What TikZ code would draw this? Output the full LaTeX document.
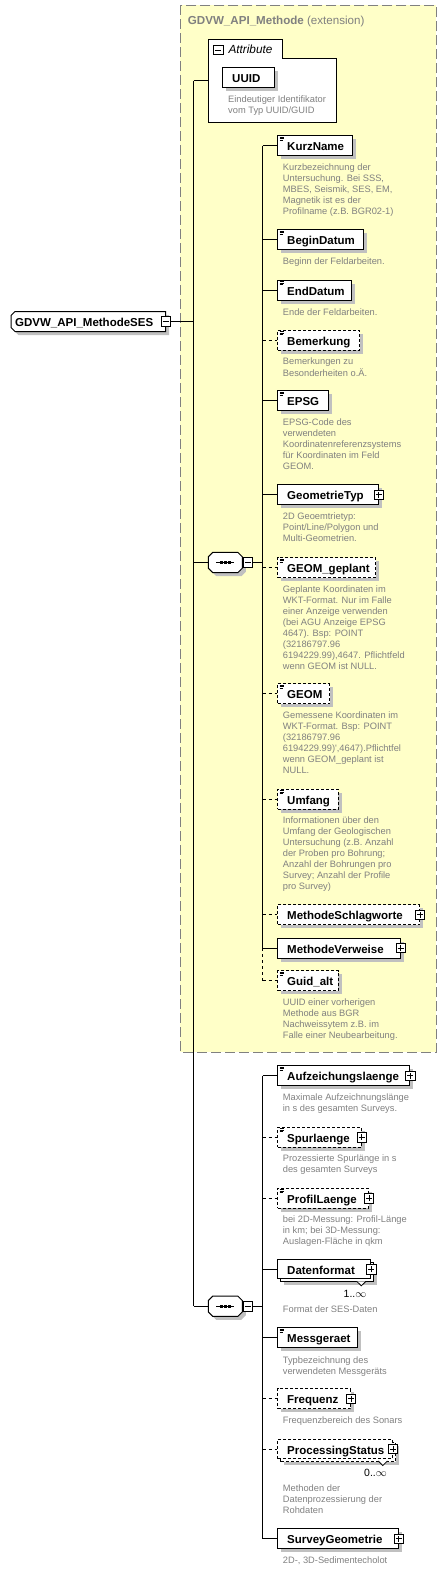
\documentclass[tikz,border=0pt]{standalone}
\usepackage{fontspec}
\setmainfont{Liberation Sans}
\usetikzlibrary{calc}
\definecolor{extfill}{RGB}{255,255,200}
\definecolor{extborder}{RGB}{128,128,128}
\definecolor{descgray}{RGB}{128,128,128}
\definecolor{shadowgray}{RGB}{192,192,192}
\newcommand{\ElemBox}[6]{%
  \pgfmathsetmacro{\ElemW}{#4-#2}%
  \pgfmathsetmacro{\ElemTW}{#4-#2-18.8}%
  \node[#5,minimum width=\ElemW pt] (#1) at (#2,#3) {\makebox[\ElemTW pt][l]{#6}};}
\newcommand{\DocIcon}[1]{%
  \draw[line width=0.6pt] ($(#1.north west)+(2.3pt,-1.8pt)$) -- ++(4.6pt,0pt)
    ($(#1.north west)+(2.3pt,-3.4pt)$) -- ++(4.6pt,0pt)
    ($(#1.north west)+(2.3pt,-5pt)$) -- ++(3.6pt,0pt);}
\newcommand{\Octa}[5]{\path[#5] ({#1+4.5},#2) -- ({#3-4.5},#2) -- (#3,{#2+4.5}) -- (#3,{#4-4.5}) -- ({#3-4.5},#4) -- ({#1+4.5},#4) -- (#1,{#4-4.5}) -- (#1,{#2+4.5}) -- cycle;}
\newcommand{\SeqDots}[1]{%
  \draw[line width=1pt] ($(#1.center)+(-9pt,0pt)$) -- ($(#1.center)+(9pt,0pt)$);
  \fill ($(#1.center)+(-5.3pt,-1.3pt)$) rectangle ++(2.6pt,2.6pt);
  \fill ($(#1.center)+(-1.3pt,-1.3pt)$) rectangle ++(2.6pt,2.6pt);
  \fill ($(#1.center)+(2.7pt,-1.3pt)$) rectangle ++(2.6pt,2.6pt);}
\begin{document}
\begin{tikzpicture}[x=1pt,y=-1pt,
  shadowed/.style={preaction={draw=none,fill=shadowgray,transform canvas={xshift=3.5pt,yshift=-3.5pt}}},
  elembase/.style={draw=black,line width=1pt,fill=white,minimum height=20pt,inner xsep=9.4pt,inner ysep=0pt,anchor=north west,text height=10pt,text depth=0pt,font=\fontsize{11.5}{13}\selectfont\bfseries},
  elem/.style={elembase,shadowed},
  optelem/.style={elembase,shadowed,dash pattern=on 3pt off 2pt},
  optfront/.style={elembase,dash pattern=on 3pt off 2pt},
  desc/.style={anchor=north west,inner sep=0pt,align=left,text=descgray,font=\fontsize{9.3}{11}\selectfont},
  conn/.style={line width=1pt},
  optconn/.style={line width=1pt,dash pattern=on 3pt off 3pt},
  pm/.style={draw=black,fill=white,line width=0.8pt,minimum size=9.5pt,inner sep=0pt,shape=rectangle},
  plusbox/.style={pm,path picture={\draw[line width=0.8pt] ($(path picture bounding box.center)+(-3pt,0pt)$) -- ++(6pt,0pt) ($(path picture bounding box.center)+(0pt,-3pt)$) -- ++(0pt,6pt);}},
  minusbox/.style={pm,path picture={\draw[line width=0.8pt] ($(path picture bounding box.center)+(-3pt,0pt)$) -- ++(6pt,0pt);}},
  mult/.style={inner sep=0pt,font=\fontsize{10.5}{12}\selectfont}
]
\useasboundingbox (0,0) rectangle (447,1573);
% extension container
\draw[extborder,fill=extfill,line width=1pt,dash pattern=on 10pt off 4pt] (180.3,5.3) rectangle (436.3,1052.3);
\node[anchor=base west,inner sep=0pt,text=extborder,font=\fontsize{11.6}{13}\selectfont] (exttitle) at (187.7,24.2) {\textbf{GDVW\_API\_Methode} (extension)};
% attribute group
\draw[line width=1pt,fill=white] (208.3,122.3) -- (208.3,39.3) -- (282.3,39.3) -- (282.3,58.3) -- (336.3,58.3) -- (336.3,122.3) -- cycle;
\node[minusbox] (attrm) at (218.3,50) {};
\node[anchor=base west,inner sep=0pt,font=\fontsize{11.8}{13}\selectfont\itshape] (attrlabel) at (228.3,54) {Attribute};
\ElemBox{uuid}{222.3}{67.3}{273.7}{elem}{UUID}
\node[desc] (duuid) at (228,95) {\strut Eindeutiger Identifikator\\vom Typ UUID/GUID};
% root
\fill[shadowgray] (18.5,315) -- (169.2,315) -- (169.2,335) -- (18.5,335) -- (14.5,331) -- (14.5,319) -- cycle;
\draw[line width=1pt,fill=white] (15,311.5) -- (165.7,311.5) -- (165.7,331.5) -- (15,331.5) -- (11,327.5) -- (11,315.5) -- cycle;
\node[anchor=west,inner sep=0pt,text height=10pt,text depth=0pt,font=\fontsize{11.5}{13}\selectfont\bfseries] (root) at (15,321.5) {GDVW\_API\_MethodeSES};
\node[minusbox] (rootm) at (165.7,321.5) {};
% compositors
\Octa{211.8}{555.8}{245.8}{576.2}{fill=shadowgray}
\Octa{208.3}{552.3}{242.3}{572.7}{draw=black,fill=white,line width=1pt}
\node[inner sep=0pt,minimum width=34pt,minimum height=20.4pt] (seq1) at (225.3,562.5) {};
\SeqDots{seq1}
\node[minusbox] (seq1m) at (247.8,562.5) {};
\Octa{211.8}{1299.5}{245.8}{1319.9}{fill=shadowgray}
\Octa{208.3}{1296}{242.3}{1316.4}{draw=black,fill=white,line width=1pt}
\node[inner sep=0pt,minimum width=34pt,minimum height=20.4pt] (seq2) at (225.3,1306.2) {};
\SeqDots{seq2}
\node[minusbox] (seq2m) at (247.8,1306.2) {};
% group 1 elements
\ElemBox{kurzname}{277.3}{135.3}{351.7}{elem}{KurzName}\DocIcon{kurzname}
\node[desc] (dkurz) at (282.7,163.0) {\strut Kurzbezeichnung der\\Untersuchung. Bei SSS,\\MBES, Seismik, SES, EM,\\Magnetik ist es der\\Profilname (z.B. BGR02-1)};
\ElemBox{begin}{277.3}{229.0}{362.7}{elem}{BeginDatum}\DocIcon{begin}
\node[desc] (dbegin) at (282.7,257.0) {\strut Beginn der Feldarbeiten.};
\ElemBox{end}{277.3}{279.5}{351.0}{elem}{EndDatum}\DocIcon{end}
\node[desc] (dend) at (282.7,307.3) {\strut Ende der Feldarbeiten.};
\ElemBox{bemerkung}{277.3}{329.7}{359.0}{optelem}{Bemerkung}\DocIcon{bemerkung}
\node[desc] (dbem) at (282.7,356.6) {\strut Bemerkungen zu\\Besonderheiten o.Ä.};
\ElemBox{epsg}{277.3}{390.0}{328.3}{elem}{EPSG}\DocIcon{epsg}
\node[desc] (depsg) at (282.7,418.0) {\strut EPSG-Code des\\verwendeten\\Koordinatenreferenzsystems\\für Koordinaten im Feld\\GEOM.};
\ElemBox{geotyp}{277.3}{484.3}{377.7}{elem}{GeometrieTyp}
\node[plusbox] (geotypp) at (geotyp.east) {};
\node[desc] (dgeotyp) at (282.7,512.0) {\strut 2D Geoemtrietyp:\\Point/Line/Polygon und\\Multi-Geometrien.};
\ElemBox{geomgeplant}{277.3}{557.0}{375.0}{optelem}{GEOM\_geplant}\DocIcon{geomgeplant}
\node[desc] (dgeomgeplant) at (282.7,584.3) {\strut Geplante Koordinaten im\\WKT-Format. Nur im Falle\\einer Anzeige verwenden\\(bei AGU Anzeige EPSG\\4647). Bsp: POINT\\(32186797.96\\6194229.99),4647. Pflichtfeld\\wenn GEOM ist NULL.};
\ElemBox{geom}{277.3}{683.3}{329.0}{optelem}{GEOM}\DocIcon{geom}
\node[desc] (dgeom) at (282.7,711.0) {\strut Gemessene Koordinaten im\\WKT-Format. Bsp: POINT\\(32186797.96\\6194229.99)\textquotesingle,4647).Pflichtfel\\wenn GEOM\_geplant ist\\NULL.};
\ElemBox{umfang}{277.3}{788.7}{337.7}{optelem}{Umfang}\DocIcon{umfang}
\node[desc] (dumfang) at (282.7,816.0) {\strut Informationen über den\\Umfang der Geologischen\\Untersuchung (z.B. Anzahl\\der Proben pro Bohrung;\\Anzahl der Bohrungen pro\\Survey; Anzahl der Profile\\pro Survey)};
\ElemBox{schlag}{277.3}{904.3}{419.0}{optelem}{MethodeSchlagworte}
\node[plusbox] (schlagp) at (schlag.east) {};
\ElemBox{verweise}{277.3}{937.5}{399.7}{elem}{MethodeVerweise}
\node[plusbox] (verweisep) at (verweise.east) {};
\ElemBox{guidalt}{277.3}{970.3}{337.7}{optelem}{Guid\_alt}\DocIcon{guidalt}
\node[desc] (dguidalt) at (282.7,998.0) {\strut UUID einer vorherigen\\Methode aus BGR\\Nachweissytem z.B. im\\Falle einer Neubearbeitung.};
% group 2 elements
\ElemBox{aufz}{277.3}{1065.3}{409.3}{elem}{Aufzeichungslaenge}\DocIcon{aufz}
\node[plusbox] (aufzp) at (aufz.east) {};
\node[desc] (daufz) at (282.7,1093.0) {\strut Maximale Aufzeichnungslänge\\in s des gesamten Surveys.};
\ElemBox{spur}{277.3}{1126.7}{360.7}{optelem}{Spurlaenge}\DocIcon{spur}
\node[plusbox] (spurp) at (spur.east) {};
\node[desc] (dspur) at (282.7,1154.0) {\strut Prozessierte Spurlänge in s\\des gesamten Surveys};
\ElemBox{profil}{277.3}{1187.7}{368.0}{optelem}{ProfilLaenge}\DocIcon{profil}
\node[plusbox] (profilp) at (profil.east) {};
\node[desc] (dprofil) at (282.7,1215.0) {\strut bei 2D-Messung: Profil-Länge\\in km; bei 3D-Messung:\\Auslagen-Fläche in qkm};
\ElemBox{dfback}{280.3}{1262.3}{373.3}{elem,minimum height=19pt}{}
\draw[line width=0.8pt,fill=white] (356.7,1281.3) -- (361.3,1285.8) -- (366,1281.3);
\ElemBox{datenformat}{277.3}{1259.3}{370.3}{elembase,minimum height=19pt}{Datenformat}
\node[plusbox] (datenformatp) at (datenformat.east) {};
\node[mult] (mdaten) at (355,1294) {1..$\infty$};
\node[desc] (ddaten) at (282.7,1304.6) {\strut Format der SES-Daten};
\ElemBox{messgeraet}{277.3}{1327.3}{357.3}{elem}{Messgeraet}\DocIcon{messgeraet}
\node[desc] (dmess) at (282.7,1355.3) {\strut Typbezeichnung des\\verwendeten Messgeräts};
\ElemBox{frequenz}{277.3}{1388.3}{350.0}{optelem}{Frequenz}
\node[plusbox] (frequenzp) at (frequenz.east) {};
\node[desc] (dfreq) at (282.7,1415.6) {\strut Frequenzbereich des Sonars};
\ElemBox{psback}{280.3}{1442}{395}{optelem,minimum height=19pt}{}
\draw[line width=0.8pt,fill=white] (378.3,1461) -- (382.8,1465.5) -- (387.3,1461);
\ElemBox{procstatus}{277.3}{1439}{392}{optfront,minimum height=19pt}{ProcessingStatus}
\node[plusbox] (procstatusp) at (procstatus.east) {};
\node[mult] (mproc) at (375.5,1472.7) {0..$\infty$};
\node[desc] (dproc) at (282.7,1484.0) {\strut Methoden der\\Datenprozessierung der\\Rohdaten};
\ElemBox{survey}{277.3}{1528.3}{397.7}{elem}{SurveyGeometrie}
\node[plusbox] (surveyp) at (survey.east) {};
\node[desc] (dsurvey) at (282.7,1555.6) {\strut 2D-, 3D-Sedimentecholot};
% connectors
\coordinate (jattr) at (193.7,81);
\coordinate (attrc) at (208.3,81);
\coordinate (jroot) at (193.7,321.5);
\coordinate (jseq1) at (193.7,562.5);
\coordinate (jseq2) at (193.7,1306.2);
\coordinate (v1) at (262.7,562.5);
\coordinate (v2) at (262.7,1306.2);
\draw[conn] (jattr) -- (jseq2);
\draw[conn] (jattr) -- (attrc);
\draw[conn] (rootm.east) -- (jroot);
\draw[conn] (jseq1) -- (seq1.west);
\draw[conn] (jseq2) -- (seq2.west);
\draw[conn] (seq1m.east) -- (v1);
\draw[conn] (seq2m.east) -- (v2);
\draw[conn] (v1 |- kurzname.west) -- (v1 |- verweise.west);
\draw[optconn] (v1 |- verweise.west) -- (v1 |- guidalt.west);
\draw[conn] (v2 |- aufz.west) -- (v2 |- survey.west);
\foreach \n in {kurzname,begin,end,epsg,geotyp,verweise}{\draw[conn] (v1 |- \n.west) -- (\n.west);}
\foreach \n in {bemerkung,geomgeplant,geom,umfang,schlag,guidalt}{\draw[optconn] (v1 |- \n.west) -- (\n.west);}
\foreach \n in {aufz,datenformat,messgeraet,survey}{\draw[conn] (v2 |- \n.west) -- (\n.west);}
\foreach \n in {spur,profil,frequenz,procstatus}{\draw[optconn] (v2 |- \n.west) -- (\n.west);}
\end{tikzpicture}
\end{document}
